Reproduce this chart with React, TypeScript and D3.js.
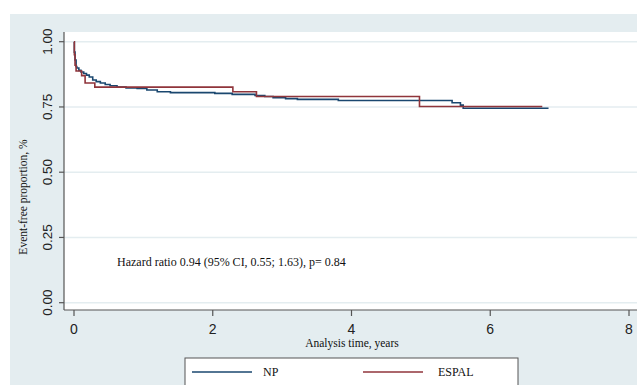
import React from "react";
import * as d3 from "d3";

const npTimes = [0, 0.005, 0.015, 0.03, 0.04, 0.07, 0.10, 0.14, 0.18, 0.22, 0.27, 0.32, 0.38, 0.45, 0.52, 0.62, 0.75, 0.91, 1.05, 1.2, 1.39, 2.03, 2.28, 2.61, 2.75, 2.87, 3.05, 3.22, 3.81, 5.45, 5.57, 5.61, 6.84];
const npSurv = [1.0, 0.96, 0.93, 0.905, 0.899, 0.89, 0.884, 0.878, 0.872, 0.865, 0.853, 0.847, 0.842, 0.836, 0.831, 0.826, 0.823, 0.821, 0.815, 0.808, 0.805, 0.802, 0.798, 0.794, 0.79, 0.785, 0.782, 0.779, 0.775, 0.766, 0.757, 0.745, 0.745];

const espalTimes = [0, 0.005, 0.015, 0.03, 0.11, 0.16, 0.30, 2.29, 2.63, 4.98, 6.75];
const espalSurv = [1.0, 0.95, 0.91, 0.888, 0.87, 0.842, 0.826, 0.808, 0.79, 0.752, 0.752];

const yTicks = [0, 0.25, 0.5, 0.75, 1.0];
const xTicks = [0, 2, 4, 6, 8];
const seriesNames = ["NP", "ESPAL"];
const seriesColors = ["#1a476f", "#90353b"];
const annotation = "Hazard ratio 0.94 (95% CI, 0.55; 1.63), p= 0.84";

export default function App() {
  const W = 637, H = 385;
  const x = d3.scaleLinear().domain([0, 8]).range([74, 629]);
  const y = d3.scaleLinear().domain([0, 1]).range([302.7, 41.7]);
  const plotLeft = 64, plotTop = 32, plotBottom = 310;
  const line = d3.line<[number, number]>().x(d => x(d[0])).y(d => y(d[1])).curve(d3.curveStepAfter);
  const npData: [number, number][] = npTimes.map((t, i) => [t, npSurv[i]]);
  const esData: [number, number][] = espalTimes.map((t, i) => [t, espalSurv[i]]);
  const sans = "'Liberation Sans', Arial, sans-serif";
  const serif = "'Liberation Serif', 'Times New Roman', serif";
  const legendX = [192, 363];
  const legendTextX = [263, 438];

  return (
    <svg width={W} height={H} style={{ position: "absolute", left: 0, top: 0 }}>
      <rect x={0} y={0} width={W} height={H} fill="#ffffff" />
      <rect x={10} y={14} width={W - 10} height={H - 14} fill="#e4edf0" />
      <rect x={plotLeft} y={plotTop} width={W - plotLeft} height={plotBottom - plotTop} fill="#ffffff" />
      {yTicks.map(v => (
        <line key={"g" + v} x1={plotLeft} x2={W} y1={y(v)} y2={y(v)} stroke="#e4edf0" strokeWidth={1.5} />
      ))}
      <line x1={plotLeft} x2={plotLeft} y1={plotTop} y2={plotBottom} stroke="#555" strokeWidth={1.2} />
      <line x1={plotLeft} x2={W} y1={plotBottom} y2={plotBottom} stroke="#555" strokeWidth={1.2} />
      {yTicks.map(v => (
        <g key={"yt" + v}>
          <line x1={59} x2={plotLeft} y1={y(v)} y2={y(v)} stroke="#555" strokeWidth={1.2} />
          <text transform={`translate(47,${y(v)}) rotate(-90)`} textAnchor="middle" dominantBaseline="central"
            fontFamily={sans} fontSize={13.5} fill="#222">{v.toFixed(2)}</text>
        </g>
      ))}
      {xTicks.map(v => (
        <g key={"xt" + v}>
          <line x1={x(v)} x2={x(v)} y1={plotBottom} y2={316} stroke="#555" strokeWidth={1.2} />
          <text x={x(v)} y={329} textAnchor="middle" dominantBaseline="central"
            fontFamily={sans} fontSize={14} fill="#222">{v}</text>
        </g>
      ))}
      <text x={352} y={343} textAnchor="middle" dominantBaseline="central" fontFamily={serif} fontSize={11.5} fill="#111">Analysis time, years</text>
      <text transform={`translate(23,197) rotate(-90)`} textAnchor="middle" dominantBaseline="central" fontFamily={serif} fontSize={11.5} fill="#111">Event-free proportion, %</text>
      <text x={117} y={262} dominantBaseline="central" fontFamily={serif} fontSize={12} fill="#111">{annotation}</text>
      <path d={line(npData) || ""} fill="none" stroke={seriesColors[0]} strokeWidth={1.6} />
      <path d={line(esData) || ""} fill="none" stroke={seriesColors[1]} strokeWidth={1.6} />
      <rect x={185} y={358} width={333} height={40} fill="#ffffff" stroke="#555" strokeWidth={1} />
      {seriesNames.map((n, i) => (
        <g key={n}>
          <line x1={legendX[i]} x2={legendX[i] + 60} y1={372} y2={372} stroke={seriesColors[i]} strokeWidth={1.6} />
          <text x={legendTextX[i]} y={372} dominantBaseline="central" fontFamily={serif} fontSize={12} fill="#111">{n}</text>
        </g>
      ))}
    </svg>
  );
}
